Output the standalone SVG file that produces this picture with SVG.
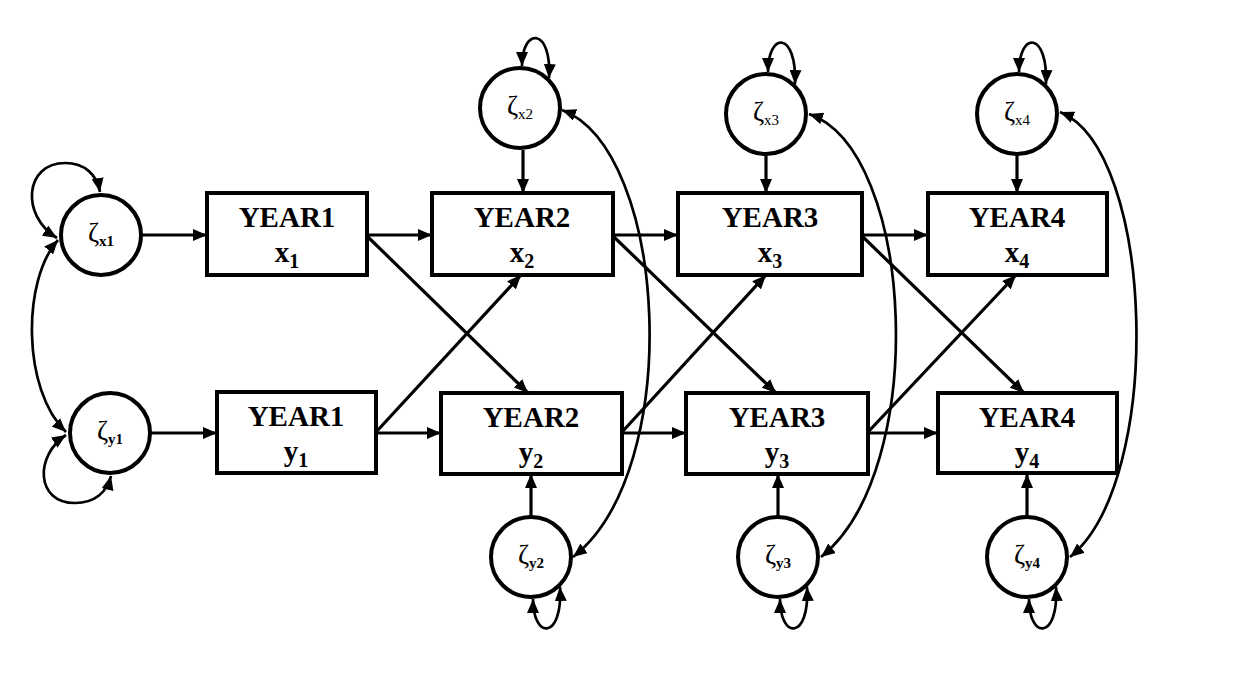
<svg xmlns="http://www.w3.org/2000/svg" width="1235" height="696" viewBox="0 0 1235 696">
<style>
.box{fill:#fff;stroke:#000;stroke-width:4}
.err{fill:#fff;stroke:#000;stroke-width:4}
.ln{fill:none;stroke:#000;stroke-width:3.2;marker-end:url(#ah)}
.cv{fill:none;stroke:#000;stroke-width:2.7;marker-start:url(#ah2);marker-end:url(#ah2)}
.t{font-family:"Liberation Serif","DejaVu Serif",serif;font-weight:bold;font-size:29px;text-anchor:middle;fill:#000}
.z{font-family:"Liberation Serif","DejaVu Serif",serif;font-size:27px;text-anchor:middle;fill:#000}
</style>
<defs>
<marker id="ah" markerUnits="userSpaceOnUse" viewBox="0 0 14 12" refX="14" refY="6" markerWidth="14" markerHeight="12" orient="auto">
<path d="M0,0 L14,6 L0,12 Z" fill="#000"/>
</marker>
<marker id="ah2" markerUnits="userSpaceOnUse" viewBox="0 0 14 12" refX="14" refY="6" markerWidth="14" markerHeight="12" orient="auto-start-reverse">
<path d="M0,0 L14,6 L0,12 Z" fill="#000"/>
</marker>
</defs>
<rect width="1235" height="696" fill="#fff"/>

<g id="connectors">
<line class="ln" x1="142" y1="235" x2="207" y2="235"/>
<line class="ln" x1="151" y1="433" x2="217" y2="433"/>
<line class="ln" x1="367" y1="235" x2="432" y2="235"/>
<line class="ln" x1="376" y1="433" x2="441" y2="433"/>
<line class="ln" x1="613" y1="235" x2="678" y2="235"/>
<line class="ln" x1="622" y1="433" x2="686" y2="433"/>
<line class="ln" x1="862" y1="235" x2="928" y2="235"/>
<line class="ln" x1="868" y1="433" x2="938" y2="433"/>
<line class="ln" x1="523" y1="150" x2="523" y2="193"/>
<line class="ln" x1="766" y1="156" x2="766" y2="193"/>
<line class="ln" x1="1017" y1="155" x2="1017" y2="193"/>
<line class="ln" x1="531" y1="516" x2="531" y2="474"/>
<line class="ln" x1="778" y1="516" x2="778" y2="474"/>
<line class="ln" x1="1027" y1="516" x2="1027" y2="474"/>
<line class="ln" x1="368" y1="237" x2="528" y2="393"/>
<line class="ln" x1="377" y1="431" x2="521" y2="275"/>
<line class="ln" x1="614" y1="237" x2="776" y2="393"/>
<line class="ln" x1="623" y1="431" x2="766" y2="275"/>
<line class="ln" x1="863" y1="237" x2="1024" y2="393"/>
<line class="ln" x1="869" y1="431" x2="1016" y2="275"/>
<path class="cv" d="M58,240 C22,280 22,390 66,432"/>
<path class="cv" d="M562,110 C668,150 685,470 573,557"/>
<path class="cv" d="M809,114 C915,150 930,470 821,557"/>
<path class="cv" d="M1060,112 C1155,150 1165,480 1070,557"/>
<path class="cv" d="M57,238 C20,215 25,163 65,163 C85,163 97,175 100,192"/>
<path class="cv" d="M66,435 C35,455 35,503 75,503 C95,503 107,492 111,476"/>
<path class="cv" d="M522,66 C522,27 552,27 549,78"/>
<path class="cv" d="M768,72 C768,31 797,31 795,84"/>
<path class="cv" d="M1019,72 C1019,31 1048,31 1046,84"/>
<path class="cv" d="M533,599 C533,640 563,640 560,587"/>
<path class="cv" d="M780,599 C780,640 810,640 807,587"/>
<path class="cv" d="M1029,599 C1029,640 1059,640 1056,587"/>
</g>

<g id="zx1"><circle class="err" cx="101" cy="235" r="40"/><text class="z" x="101" y="242">ζ<tspan font-size="15" font-weight="bold" dy="4">x1</tspan></text></g>
<g id="zy1"><circle class="err" cx="110" cy="433" r="40"/><text class="z" x="110" y="440">ζ<tspan font-size="15" font-weight="bold" dy="4">y1</tspan></text></g>
<g id="zx2"><circle class="err" cx="520" cy="108" r="40"/><text class="z" x="520" y="115">ζ<tspan font-size="15" dy="4">x2</tspan></text></g>
<g id="zx3"><circle class="err" cx="766" cy="114" r="40"/><text class="z" x="766" y="121">ζ<tspan font-size="15" dy="4">x3</tspan></text></g>
<g id="zx4"><circle class="err" cx="1017" cy="114" r="40"/><text class="z" x="1017" y="121">ζ<tspan font-size="15" dy="4">x4</tspan></text></g>
<g id="zy2"><circle class="err" cx="531" cy="557" r="40"/><text class="z" x="531" y="564">ζ<tspan font-size="15" font-weight="bold" dy="4">y2</tspan></text></g>
<g id="zy3"><circle class="err" cx="778" cy="557" r="40"/><text class="z" x="778" y="564">ζ<tspan font-size="15" font-weight="bold" dy="4">y3</tspan></text></g>
<g id="zy4"><circle class="err" cx="1027" cy="557" r="40"/><text class="z" x="1027" y="564">ζ<tspan font-size="15" font-weight="bold" dy="4">y4</tspan></text></g>

<g id="x1"><rect class="box" x="207" y="193" width="160" height="82"/><text class="t" x="287" y="227">YEAR1</text><text class="t" x="287" y="262">x<tspan font-size="20" dy="6">1</tspan></text></g>
<g id="y1"><rect class="box" x="217" y="392" width="159" height="81"/><text class="t" x="296" y="426">YEAR1</text><text class="t" x="296" y="461">y<tspan font-size="20" dy="6">1</tspan></text></g>
<g id="x2"><rect class="box" x="432" y="193" width="181" height="82"/><text class="t" x="522" y="227">YEAR2</text><text class="t" x="522" y="262">x<tspan font-size="20" dy="6">2</tspan></text></g>
<g id="y2"><rect class="box" x="441" y="393" width="181" height="81"/><text class="t" x="531" y="427">YEAR2</text><text class="t" x="531" y="462">y<tspan font-size="20" dy="6">2</tspan></text></g>
<g id="x3"><rect class="box" x="678" y="193" width="184" height="82"/><text class="t" x="770" y="227">YEAR3</text><text class="t" x="770" y="262">x<tspan font-size="20" dy="6">3</tspan></text></g>
<g id="y3"><rect class="box" x="686" y="393" width="182" height="81"/><text class="t" x="777" y="427">YEAR3</text><text class="t" x="777" y="462">y<tspan font-size="20" dy="6">3</tspan></text></g>
<g id="x4"><rect class="box" x="928" y="193" width="179" height="82"/><text class="t" x="1017" y="227">YEAR4</text><text class="t" x="1017" y="262">x<tspan font-size="20" dy="6">4</tspan></text></g>
<g id="y4"><rect class="box" x="938" y="393" width="179" height="80"/><text class="t" x="1027" y="427">YEAR4</text><text class="t" x="1027" y="462">y<tspan font-size="20" dy="6">4</tspan></text></g>
</svg>
